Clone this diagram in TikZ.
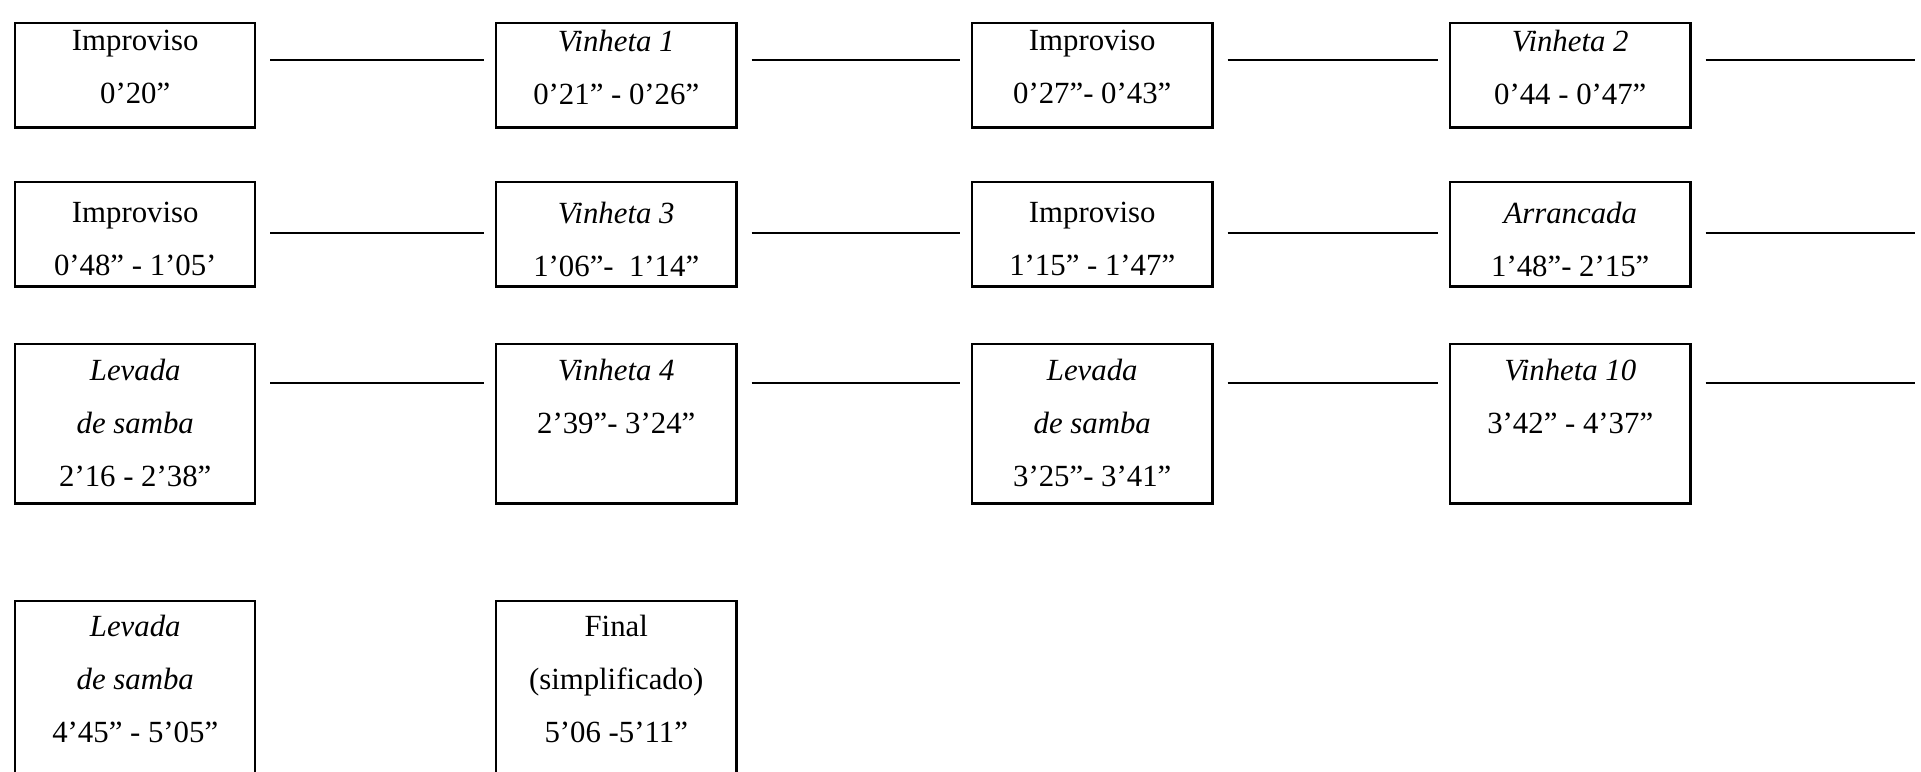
\documentclass[tikz,border=0pt]{standalone}
\usepackage{fontspec}
\setmainfont{Liberation Serif}
\usetikzlibrary{calc}
\begin{document}
\begin{tikzpicture}[x=0.0145cm, y=-0.0145cm,
  cell/.style={draw, line width=1pt, anchor=north west, minimum width=3.48cm, inner sep=0pt},
  celltext/.style={anchor=north, align=center, inner sep=0pt, font=\fontsize{12.7}{21.8}\selectfont},
  link/.style={line width=0.8pt}]
\clip (0,0) rectangle (1921,771);
% first row
\node[cell, minimum height=1.51cm, label={[celltext, yshift=-3.3pt]north:{Improviso\\0’20”}}] (a1) at (14,22) {};
\node[cell, minimum height=1.51cm, label={[celltext, yshift=-3.3pt]north:{\textit{Vinheta 1}\\0’21” - 0’26”}}] (a2) at (495,22) {};
\node[cell, minimum height=1.51cm, label={[celltext, yshift=-3.3pt]north:{Improviso\\0’27”- 0’43”}}] (a3) at (971,22) {};
\node[cell, minimum height=1.51cm, label={[celltext, yshift=-3.3pt]north:{\textit{Vinheta 2}\\0’44 - 0’47”}}] (a4) at (1449,22) {};
% second row
\node[cell, minimum height=1.51cm, label={[celltext, yshift=-8.5pt]north:{Improviso\\0’48” - 1’05’}}] (b1) at (14,181) {};
\node[cell, minimum height=1.51cm, label={[celltext, yshift=-8.5pt]north:{\textit{Vinheta 3}\\1’06”-\ \ 1’14”}}] (b2) at (495,181) {};
\node[cell, minimum height=1.51cm, label={[celltext, yshift=-8.5pt]north:{Improviso\\1’15” - 1’47”}}] (b3) at (971,181) {};
\node[cell, minimum height=1.51cm, label={[celltext, yshift=-8.5pt]north:{\textit{Arrancada}\\1’48”- 2’15”}}] (b4) at (1449,181) {};
% third row
\node[cell, minimum height=2.31cm, label={[celltext, yshift=-6.6pt]north:{\textit{Levada}\\\textit{de samba}\\2’16 - 2’38”}}] (c1) at (14,343) {};
\node[cell, minimum height=2.31cm, label={[celltext, yshift=-6.6pt]north:{\textit{Vinheta 4}\\2’39”- 3’24”}}] (c2) at (495,343) {};
\node[cell, minimum height=2.31cm, label={[celltext, yshift=-6.6pt]north:{\textit{Levada}\\\textit{de samba}\\3’25”- 3’41”}}] (c3) at (971,343) {};
\node[cell, minimum height=2.31cm, label={[celltext, yshift=-6.6pt]north:{\textit{Vinheta 10}\\3’42” - 4’37”}}] (c4) at (1449,343) {};
% last row, cut at the bottom
\node[cell, minimum height=2.8cm, label={[celltext, yshift=-6.2pt]north:{\textit{Levada}\\\textit{de samba}\\4’45” - 5’05”}}] (d1) at (14,600) {};
\node[cell, minimum height=2.8cm, label={[celltext, yshift=-6.2pt]north:{Final\\(simplificado)\\5’06 -5’11”}}] (d2) at (495,600) {};
% loose ends on the right
\coordinate (ea) at (1915,60);
\coordinate (eb) at (1915,233);
\coordinate (ec) at (1915,383);
\foreach \r/\dy in {a/38,b/52,c/40}{
  \foreach \i/\j in {1/2,2/3,3/4}
    \draw[link] ($(\r\i.north east)+(14,\dy)$) -- ($(\r\j.north west)+(-11,\dy)$);
  \draw[link] ($(\r4.north east)+(14,\dy)$) -- (e\r);
}
\end{tikzpicture}
\end{document}
